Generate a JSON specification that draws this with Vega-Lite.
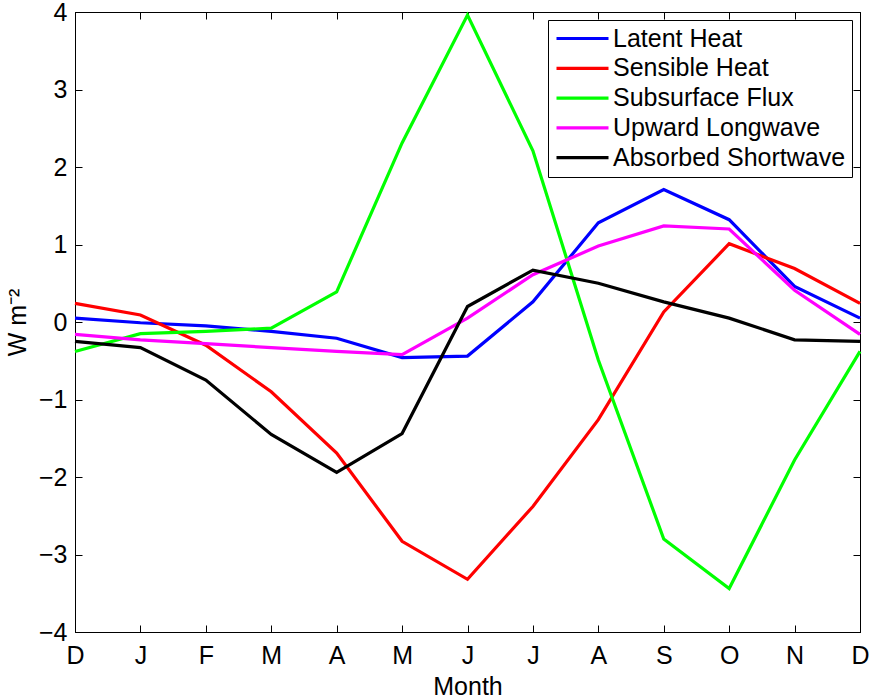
{
  "$schema": "https://vega.github.io/schema/vega-lite/v6.json",
  "width": 785,
  "height": 620,
  "autosize": {"type": "none"},
  "padding": {"left": 75, "top": 12, "right": 11, "bottom": 66},
  "data": {
    "values": [
      {"t": 0, "series": "Latent Heat", "value": 0.05},
      {"t": 1, "series": "Latent Heat", "value": -0.01},
      {"t": 2, "series": "Latent Heat", "value": -0.05},
      {"t": 3, "series": "Latent Heat", "value": -0.12},
      {"t": 4, "series": "Latent Heat", "value": -0.21},
      {"t": 5, "series": "Latent Heat", "value": -0.46},
      {"t": 6, "series": "Latent Heat", "value": -0.44},
      {"t": 7, "series": "Latent Heat", "value": 0.26},
      {"t": 8, "series": "Latent Heat", "value": 1.28},
      {"t": 9, "series": "Latent Heat", "value": 1.71},
      {"t": 10, "series": "Latent Heat", "value": 1.32},
      {"t": 11, "series": "Latent Heat", "value": 0.46},
      {"t": 12, "series": "Latent Heat", "value": 0.05},
      {"t": 0, "series": "Sensible Heat", "value": 0.24},
      {"t": 1, "series": "Sensible Heat", "value": 0.09},
      {"t": 2, "series": "Sensible Heat", "value": -0.3},
      {"t": 3, "series": "Sensible Heat", "value": -0.9},
      {"t": 4, "series": "Sensible Heat", "value": -1.69},
      {"t": 5, "series": "Sensible Heat", "value": -2.83},
      {"t": 6, "series": "Sensible Heat", "value": -3.32},
      {"t": 7, "series": "Sensible Heat", "value": -2.38},
      {"t": 8, "series": "Sensible Heat", "value": -1.26},
      {"t": 9, "series": "Sensible Heat", "value": 0.13},
      {"t": 10, "series": "Sensible Heat", "value": 1.01},
      {"t": 11, "series": "Sensible Heat", "value": 0.69},
      {"t": 12, "series": "Sensible Heat", "value": 0.24},
      {"t": 0, "series": "Subsurface Flux", "value": -0.38},
      {"t": 1, "series": "Subsurface Flux", "value": -0.15},
      {"t": 2, "series": "Subsurface Flux", "value": -0.12},
      {"t": 3, "series": "Subsurface Flux", "value": -0.08},
      {"t": 4, "series": "Subsurface Flux", "value": 0.39},
      {"t": 5, "series": "Subsurface Flux", "value": 2.31},
      {"t": 6, "series": "Subsurface Flux", "value": 3.96},
      {"t": 7, "series": "Subsurface Flux", "value": 2.21},
      {"t": 8, "series": "Subsurface Flux", "value": -0.49},
      {"t": 9, "series": "Subsurface Flux", "value": -2.8},
      {"t": 10, "series": "Subsurface Flux", "value": -3.44},
      {"t": 11, "series": "Subsurface Flux", "value": -1.78},
      {"t": 12, "series": "Subsurface Flux", "value": -0.38},
      {"t": 0, "series": "Upward Longwave", "value": -0.16},
      {"t": 1, "series": "Upward Longwave", "value": -0.23},
      {"t": 2, "series": "Upward Longwave", "value": -0.28},
      {"t": 3, "series": "Upward Longwave", "value": -0.33},
      {"t": 4, "series": "Upward Longwave", "value": -0.38},
      {"t": 5, "series": "Upward Longwave", "value": -0.42},
      {"t": 6, "series": "Upward Longwave", "value": 0.05},
      {"t": 7, "series": "Upward Longwave", "value": 0.61},
      {"t": 8, "series": "Upward Longwave", "value": 0.98},
      {"t": 9, "series": "Upward Longwave", "value": 1.24},
      {"t": 10, "series": "Upward Longwave", "value": 1.2},
      {"t": 11, "series": "Upward Longwave", "value": 0.41},
      {"t": 12, "series": "Upward Longwave", "value": -0.16},
      {"t": 0, "series": "Absorbed Shortwave", "value": -0.25},
      {"t": 1, "series": "Absorbed Shortwave", "value": -0.33},
      {"t": 2, "series": "Absorbed Shortwave", "value": -0.75},
      {"t": 3, "series": "Absorbed Shortwave", "value": -1.45},
      {"t": 4, "series": "Absorbed Shortwave", "value": -1.94},
      {"t": 5, "series": "Absorbed Shortwave", "value": -1.44},
      {"t": 6, "series": "Absorbed Shortwave", "value": 0.2},
      {"t": 7, "series": "Absorbed Shortwave", "value": 0.67},
      {"t": 8, "series": "Absorbed Shortwave", "value": 0.5},
      {"t": 9, "series": "Absorbed Shortwave", "value": 0.26},
      {"t": 10, "series": "Absorbed Shortwave", "value": 0.05},
      {"t": 11, "series": "Absorbed Shortwave", "value": -0.23},
      {"t": 12, "series": "Absorbed Shortwave", "value": -0.25}
    ]
  },
  "layer": [
    {
      "mark": {"type": "line", "strokeWidth": 3.2},
      "encoding": {
        "x": {
          "field": "t",
          "type": "quantitative",
          "scale": {"domain": [0, 12], "nice": false, "zero": false},
          "axis": {
            "title": "Month",
            "values": [0, 1, 2, 3, 4, 5, 6, 7, 8, 9, 10, 11, 12],
            "labelExpr": "['D','J','F','M','A','M','J','J','A','S','O','N','D'][datum.value]",
            "labelFlush": false,
            "labelPadding": 18,
            "titlePadding": 6
          }
        },
        "y": {
          "field": "value",
          "type": "quantitative",
          "scale": {"domain": [-4, 4], "nice": false},
          "axis": {
            "title": "W m⁻²",
            "values": [-4, -3, -2, -1, 0, 1, 2, 3, 4],
            "labelFlush": false,
            "labelPadding": 15,
            "titlePadding": 8
          }
        },
        "color": {
          "field": "series",
          "type": "nominal",
          "scale": {
            "domain": ["Latent Heat", "Sensible Heat", "Subsurface Flux", "Upward Longwave", "Absorbed Shortwave"],
            "range": ["#0000ff", "#ff0000", "#00ff00", "#ff00ff", "#000000"]
          },
          "legend": {
            "title": null,
            "orient": "top-right",
            "offset": 8,
            "padding": 6,
            "strokeColor": "black",
            "fillColor": "white",
            "symbolType": "M-1,0H4.2",
            "symbolSize": 400,
            "symbolStrokeWidth": 3.2,
            "labelFontSize": 25,
            "labelLimit": 0,
            "labelOffset": 34,
            "rowPadding": 3.8,
            "labelColor": "black"
          }
        }
      }
    },
    {
      "mark": {"type": "line", "opacity": 0},
      "encoding": {
        "x": {
          "field": "t",
          "type": "quantitative",
          "axis": {"orient": "top", "labels": false, "title": null, "values": [0, 1, 2, 3, 4, 5, 6, 7, 8, 9, 10, 11, 12]}
        },
        "y": {
          "field": "value",
          "type": "quantitative",
          "axis": {"orient": "right", "labels": false, "title": null, "values": [-4, -3, -2, -1, 0, 1, 2, 3, 4]}
        },
        "detail": {"field": "series", "type": "nominal"}
      }
    }
  ],
  "resolve": {"axis": {"x": "independent", "y": "independent"}},
  "config": {
    "font": "Liberation Sans",
    "view": {"stroke": "black", "strokeWidth": 1},
    "axis": {
      "grid": false,
      "domainColor": "black",
      "domainWidth": 1,
      "tickColor": "black",
      "tickSize": -7,
      "labelColor": "black",
      "labelFontSize": 25,
      "titleColor": "black",
      "titleFontSize": 25,
      "titleFontWeight": "normal"
    },
    "legend": {"labelFont": "Liberation Sans"}
  }
}
